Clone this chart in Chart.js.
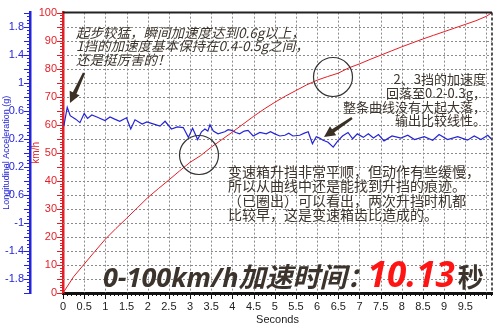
<!DOCTYPE html>
<html>
<head>
<meta charset="utf-8">
<script src="https://cdn.jsdelivr.net/npm/chart.js@4.4.1/dist/chart.umd.min.js"></script>
<style>
  html, body { margin: 0; padding: 0; background: #fff; }
</style>
</head>
<body>
<canvas id="accelChart" width="500" height="327"></canvas>
<script>
// speed trace (km/h over seconds)
const speedTime = [0, 0.25, 0.5, 0.75, 1.0, 1.25, 1.5, 1.75, 2.0, 2.25, 2.5, 2.75, 3.0, 3.25, 3.5, 3.75,
  4.0, 4.25, 4.5, 4.75, 5.0, 5.25, 5.5, 5.75, 6.0, 6.25, 6.5, 6.75, 7.0, 7.25, 7.5, 7.75,
  8.0, 8.25, 8.5, 8.75, 9.0, 9.25, 9.5, 9.75, 10.0, 10.13];
const speedKmh = [0, 5.8, 10.3, 14.8, 19.2, 23.0, 26.6, 30.3, 34.0, 37.2, 40.3, 43.5, 46.6, 49.0, 52.0, 54.7,
  57.4, 60.2, 63.0, 65.6, 68.0, 70.2, 72.2, 74.2, 75.9, 77.2, 78.4, 80.3, 81.7, 83.3, 84.8, 86.3,
  87.8, 89.2, 90.6, 91.9, 93.2, 94.5, 95.8, 97.1, 98.7, 100];

// longitudinal acceleration trace (g over seconds)
const accelTime = [0.02, 0.10, 0.17, 0.30, 0.40, 0.50, 0.58, 0.68, 0.80, 0.99, 1.11, 1.22, 1.34, 1.50, 1.60,
  1.70, 1.87, 1.98, 2.09, 2.29, 2.41, 2.56, 2.70, 2.84, 2.96, 3.06, 3.18, 3.27, 3.35, 3.42,
  3.47, 3.55, 3.66, 3.82, 3.90, 3.98, 4.08, 4.17, 4.28, 4.37, 4.49, 4.65, 4.80, 4.90, 5.00,
  5.12, 5.24, 5.33, 5.43, 5.59, 5.70, 5.79, 5.89, 5.98, 6.06, 6.14, 6.26, 6.38, 6.49, 6.60,
  6.73, 6.84, 6.95, 7.09, 7.21, 7.33, 7.45, 7.58, 7.77, 7.98, 8.14, 8.30, 8.53, 8.73, 8.88,
  9.08, 9.32, 9.55, 9.71, 9.87, 10.03, 10.11];
const accelG = [0.38, 0.65, 0.53, 0.48, 0.43, 0.56, 0.49, 0.54, 0.51, 0.46, 0.51, 0.48, 0.45, 0.50, 0.34,
  0.47, 0.41, 0.44, 0.42, 0.38, 0.45, 0.34, 0.37, 0.36, 0.22, 0.35, 0.19, 0.30, 0.34, 0.31,
  0.40, 0.31, 0.27, 0.30, 0.33, 0.32, 0.29, 0.27, 0.31, 0.32, 0.24, 0.29, 0.27, 0.30, 0.27,
  0.24, 0.25, 0.28, 0.24, 0.25, 0.28, 0.30, 0.13, 0.23, 0.21, 0.18, 0.15, 0.08, 0.17, 0.24,
  0.29, 0.20, 0.27, 0.22, 0.27, 0.21, 0.26, 0.17, 0.24, 0.21, 0.25, 0.19, 0.23, 0.18, 0.26,
  0.19, 0.23, 0.18, 0.24, 0.19, 0.25, 0.20];

const INK = '#3c342c';
const BLUE = '#2424d8';
const RED = '#e41e26';

const notes1 = ['起步较猛，瞬间加速度达到0.6g以上，', '1挡的加速度基本保持在0.4-0.5g之间，', '还是挺厉害的！'];
const notes2 = ['2、3挡的加速度', '回落至0.2-0.3g，', '整条曲线没有大起大落，', '输出比较线性。'];
const notes3 = ['变速箱升挡非常平顺，但动作有些缓慢，', '所以从曲线中还是能找到升挡的痕迹。', '（已圈出）可以看出，两次升挡时机都', '比较早，这是变速箱齿比造成的。'];

function arrow(ctx, x1, y1, x2, y2) {
  const a = Math.atan2(y2 - y1, x2 - x1);
  const head = 11, hw = 5.5, sw = 2;
  const bx = x2 - head * Math.cos(a), by = y2 - head * Math.sin(a);
  const nx = -Math.sin(a), ny = Math.cos(a);
  ctx.beginPath();
  ctx.moveTo(x1 + nx * sw * 0.6, y1 + ny * sw * 0.6);
  ctx.lineTo(bx + nx * sw, by + ny * sw);
  ctx.lineTo(bx + nx * hw, by + ny * hw);
  ctx.lineTo(x2, y2);
  ctx.lineTo(bx - nx * hw, by - ny * hw);
  ctx.lineTo(bx - nx * sw, by - ny * sw);
  ctx.lineTo(x1 - nx * sw * 0.6, y1 - ny * sw * 0.6);
  ctx.closePath();
  ctx.fill();
}

// dotted grid behind the traces
const dottedGrid = {
  id: 'dottedGrid',
  beforeDatasetsDraw(chart) {
    const { ctx, chartArea: ca, scales } = chart;
    ctx.save();
    ctx.strokeStyle = '#8a8a8a';
    ctx.lineWidth = 1;
    ctx.setLineDash([2, 2]);
    for (let i = 1; i <= 20; i++) {
      const px = Math.round(scales.x.getPixelForValue(i / 2)) + 0.5;
      ctx.beginPath(); ctx.moveTo(px, ca.top); ctx.lineTo(px, ca.bottom); ctx.stroke();
    }
    for (let v = 5; v < 100; v += 5) {
      const py = Math.round(scales.kmh.getPixelForValue(v)) + 0.5;
      ctx.beginPath(); ctx.moveTo(ca.left, py); ctx.lineTo(ca.right, py); ctx.stroke();
    }
    ctx.restore();
  }
};

// minor/major tick marks and frame around the plot
const tickMarks = {
  id: 'tickMarks',
  afterDraw(chart) {
    const { ctx, chartArea: ca, scales } = chart;
    ctx.save();
    ctx.lineWidth = 1;

    const k = scales.kmh;
    ctx.strokeStyle = RED;
    for (let v = 0; v <= 100; v++) {
      const y = Math.round(k.getPixelForValue(v)) + 0.5;
      const len = v % 5 === 0 ? 6 : 3;
      ctx.beginPath(); ctx.moveTo(k.right - len, y); ctx.lineTo(k.right, y); ctx.stroke();
    }

    const g = scales.g;
    ctx.strokeStyle = BLUE;
    for (let i = -40; i <= 40; i++) {
      const y = Math.round(g.getPixelForValue(i * 0.05)) + 0.5;
      const len = i % 4 === 0 ? 6 : 3;
      ctx.beginPath(); ctx.moveTo(g.right - len, y); ctx.lineTo(g.right, y); ctx.stroke();
    }

    const x = scales.x;
    ctx.strokeStyle = '#111';
    for (let i = 0; i <= 101; i++) {
      const px = Math.round(x.getPixelForValue(i / 10)) + 0.5;
      const len = i % 5 === 0 ? 6 : 3;
      ctx.beginPath(); ctx.moveTo(px, ca.bottom); ctx.lineTo(px, ca.bottom + len); ctx.stroke();
    }

    // top and right frame
    ctx.strokeStyle = '#222';
    ctx.lineWidth = 2;
    ctx.beginPath(); ctx.moveTo(ca.left, ca.top); ctx.lineTo(ca.right, ca.top); ctx.stroke();
    ctx.setLineDash([3, 2]);
    ctx.lineWidth = 1.5;
    ctx.beginPath(); ctx.moveTo(ca.right, ca.top); ctx.lineTo(ca.right, ca.bottom); ctx.stroke();
    ctx.restore();
  }
};

// callouts, circles and the headline time
const callouts = {
  id: 'callouts',
  afterDraw(chart) {
    const { ctx } = chart;
    ctx.save();

    ctx.strokeStyle = '#333';
    ctx.lineWidth = 1.2;
    [[199, 155], [333, 77]].forEach(([cx, cy]) => {
      ctx.beginPath(); ctx.arc(cx, cy, 19.5, 0, Math.PI * 2); ctx.stroke();
    });

    ctx.fillStyle = '#3a3026';
    arrow(ctx, 84, 73, 70, 103);
    arrow(ctx, 352, 118, 324, 137);

    ctx.fillStyle = INK;
    ctx.textBaseline = 'middle';
    ctx.font = 'italic 13.5px "Noto Sans CJK SC"';
    ctx.textAlign = 'left';
    notes1.forEach((s, i) => ctx.fillText(s, 76, 32.5 + i * 13.5));

    ctx.font = '13px "Noto Sans CJK SC"';
    ctx.textAlign = 'right';
    notes2.forEach((s, i) => ctx.fillText(s, 486, 79.5 + i * 13.6));

    ctx.font = '14px "Noto Sans CJK SC"';
    ctx.textAlign = 'left';
    notes3.forEach((s, i) => ctx.fillText(s, 228, 171.5 + i * 14.4));

    // 0-100 headline
    ctx.textBaseline = 'alphabetic';
    const y = 287;
    let px = 103;
    ctx.font = 'italic bold 27px "Open Sans", "Noto Sans CJK SC"';
    ctx.fillStyle = INK;
    const head = '0-100km/h加速时间：';
    ctx.fillText(head, px, y);
    px += ctx.measureText(head).width - 6;
    ctx.font = 'italic bold 35px "Open Sans", "Noto Sans CJK SC"';
    ctx.fillStyle = '#ff1414';
    ctx.fillText('10.13', px, y);
    px += ctx.measureText('10.13').width + 3;
    ctx.font = 'bold 26px "Noto Sans CJK SC"';
    ctx.fillStyle = INK;
    ctx.fillText('秒', px, y);

    ctx.restore();
  }
};

const labelFont = { family: 'Arial, "Liberation Sans", sans-serif', size: 11 };
const oneDecimal = v => String(Math.round(v * 10) / 10);

new Chart(document.getElementById('accelChart'), {
  type: 'line',
  data: {
    datasets: [
      {
        label: 'Speed',
        data: speedTime.map((t, i) => ({ x: t, y: speedKmh[i] })),
        yAxisID: 'kmh',
        borderColor: RED,
        borderWidth: 1,
        pointRadius: 0,
        tension: 0
      },
      {
        label: 'Longitudinal Acceleration',
        data: accelTime.map((t, i) => ({ x: t, y: accelG[i] })),
        yAxisID: 'g',
        borderColor: BLUE,
        borderWidth: 1.2,
        pointRadius: 0,
        tension: 0
      }
    ]
  },
  options: {
    responsive: false,
    animation: false,
    layout: { padding: { top: 11, right: 8, left: 0, bottom: 0 } },
    plugins: { legend: { display: false }, tooltip: { enabled: false } },
    scales: {
      x: {
        type: 'linear',
        min: 0,
        max: 10.13,
        afterBuildTicks: s => { s.ticks = s.ticks.filter(t => Math.abs(t.value * 2 - Math.round(t.value * 2)) < 1e-6); },
        afterFit: s => { s.height = 34; },
        ticks: { stepSize: 0.5, maxRotation: 0, autoSkip: false, padding: 7, color: '#222', font: labelFont, callback: oneDecimal },
        grid: { display: false, drawTicks: false },
        border: { color: '#111', width: 3 },
        title: { display: true, text: 'Seconds', color: '#222', font: labelFont, padding: { top: 0, bottom: 0 } }
      },
      kmh: {
        type: 'linear',
        position: 'left',
        weight: 0,
        min: 0,
        max: 100,
        afterFit: s => { s.width = 33; },
        ticks: { stepSize: 5, color: RED, font: labelFont, padding: 6 },
        grid: { display: false, drawTicks: false },
        border: { color: RED, width: 2.5 },
        title: { display: true, text: 'km/h', color: RED, font: { family: labelFont.family, size: 10 }, padding: { top: 0, bottom: 0 } }
      },
      g: {
        type: 'linear',
        position: 'left',
        weight: 1,
        min: -2,
        max: 2,
        afterFit: s => { s.width = 30; },
        ticks: {
          stepSize: 0.2,
          color: BLUE,
          font: labelFont,
          padding: 6,
          callback: v => (Math.abs(v + 2) < 1e-6 ? null : oneDecimal(v))
        },
        grid: { display: false, drawTicks: false },
        border: { color: BLUE, width: 2.5 },
        title: { display: true, text: 'Longitudinal Acceleration (g)', color: BLUE, font: { family: labelFont.family, size: 9 }, padding: { top: 1, bottom: 0 } }
      }
    }
  },
  plugins: [dottedGrid, tickMarks, callouts]
});
</script>
</body>
</html>
